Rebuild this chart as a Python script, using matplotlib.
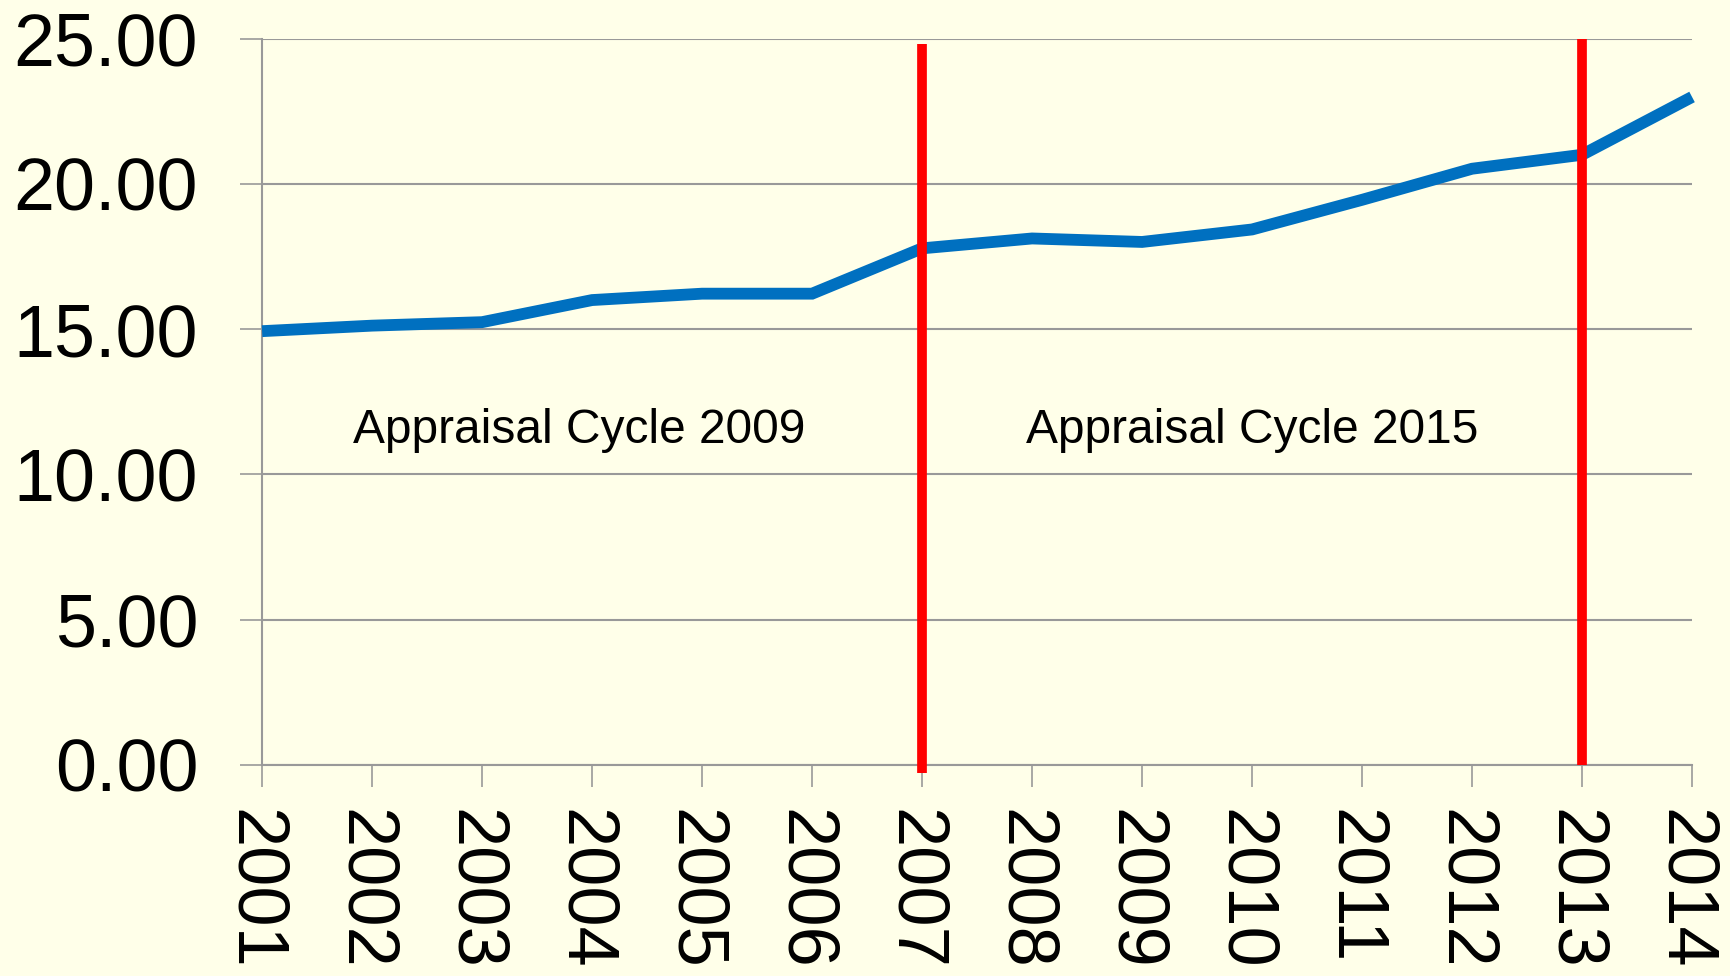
import matplotlib.pyplot as plt
import matplotlib.transforms as mtransforms

years = list(range(2001, 2015))
values = [14.93, 15.12, 15.24, 16.0, 16.22, 16.22, 17.78, 18.12, 18.0, 18.43, 19.45, 20.52, 21.0, 22.99]
cycle_years = [2007, 2013]
cycle_labels = ["Appraisal Cycle 2009", "Appraisal Cycle 2015"]
cycle_label_x = [2003.88, 2010.0]
cycle_label_y = 11.5
yticks = [0, 5, 10, 15, 20, 25]

plt.rcParams['font.family'] = ['Liberation Sans', 'DejaVu Sans']
bg = '#FFFFE9'
grid_c = '#999999'

fig = plt.figure(figsize=(17.31, 9.76), dpi=100, facecolor=bg)
ax = fig.add_axes([0.1514, 0.2162, 0.8261, 0.7443], facecolor=bg)

ax.plot(years, values, color='#0070C0', lw=8.5, solid_capstyle='butt', solid_joinstyle='miter', zorder=3, clip_on=False)

# red cycle markers
ax.plot([cycle_years[0]] * 2, [-0.28, 24.81], color='#FF0000', lw=7, solid_capstyle='butt', zorder=4, clip_on=False)
ax.plot([cycle_years[1]] * 2, [0, 25], color='#FF0000', lw=7, solid_capstyle='butt', zorder=4, clip_on=False)

for x, t in zip(cycle_label_x, cycle_labels):
    ax.text(x, cycle_label_y, t, fontsize=34.5, ha='center', va='center', color='black')

ax.set_xlim(years[0], years[-1])
ax.set_ylim(0, 25)
ax.set_yticks(yticks)
ax.set_yticklabels([f"{v:.2f}" for v in yticks])
ax.set_xticks(years)
ax.set_xticklabels([str(y) for y in years], rotation=-90, va='top', ha='center')

ax.grid(axis='y', color=grid_c, lw=1.5)
ax.set_axisbelow(True)
for s in ['top', 'right']:
    ax.spines[s].set_visible(False)
for s in ['left', 'bottom']:
    ax.spines[s].set_color(grid_c)
    ax.spines[s].set_linewidth(1.5)
ax.tick_params(axis='both', length=16, width=1.2, color=grid_c)
ax.tick_params(axis='y', pad=30, labelsize=53)
ax.tick_params(axis='x', pad=16, labelsize=52)

# nudge rotated year labels so the digits sit centred on their ticks
shift = mtransforms.ScaledTranslation(-9 / 100, 0, fig.dpi_scale_trans)
for lbl in ax.get_xticklabels():
    lbl.set_transform(lbl.get_transform() + shift)

fig.savefig('out.png', dpi=100, facecolor=bg)
